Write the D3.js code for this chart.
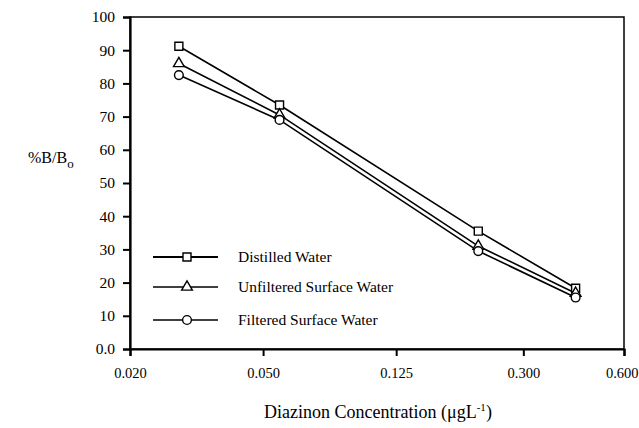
<!DOCTYPE html>
<html>
<head>
<meta charset="utf-8">
<script src="https://cdn.jsdelivr.net/npm/d3@7"></script>
<style>
  body { margin: 0; background: #fff; }
  #chart, #chart text { font-family: 'Liberation Serif', serif !important; }
</style>
</head>
<body>
<svg id="chart" width="639" height="428"></svg>
<script>
// data
let concentrations = [0.028, 0.056, 0.22, 0.43]
let distilled = [91.2, 73.5, 35.5, 18.3]
let unfiltered = [86.0, 70.5, 31.0, 16.8]
let filtered = [82.5, 69.0, 29.5, 15.5]
let seriesNames = ['Distilled Water', 'Unfiltered Surface Water', 'Filtered Surface Water']
let xTicks = [0.02, 0.05, 0.125, 0.3, 0.6]
let yTicks = [0, 10, 20, 30, 40, 50, 60, 70, 80, 90, 100]

let series = [
  {name: seriesNames[0], values: distilled, shape: 'square'},
  {name: seriesNames[1], values: unfiltered, shape: 'triangle'},
  {name: seriesNames[2], values: filtered, shape: 'circle'},
]

let svg = d3.select('#chart')
let plotL = 130, plotR = 624, plotT = 17, plotB = 349

let x = d3.scaleLog().domain([0.02, 0.6]).range([plotL, plotR])
let y = d3.scaleLinear().domain([0, 100]).range([plotB, plotT])

// frame
svg.append('rect')
  .attr('x', plotL).attr('y', plotT)
  .attr('width', plotR - plotL).attr('height', plotB - plotT)
  .attr('fill', 'none').attr('stroke', '#000').attr('stroke-width', 1.5)

// axes
let yAxis = svg.append('g')
  .attr('transform', `translate(${plotL},0)`)
  .call(d3.axisLeft(y).tickValues(yTicks).tickSize(7).tickPadding(8)
    .tickFormat(d => d === 0 ? '0.0' : d))
let xAxis = svg.append('g')
  .attr('transform', `translate(0,${plotB})`)
  .call(d3.axisBottom(x).tickValues(xTicks).tickSize(7).tickPadding(12)
    .tickFormat(d3.format('.3f')))

yAxis.attr('font-size', 15.5)
xAxis.attr('font-size', 14.5)
for (let ax of [xAxis, yAxis]) {
  ax.select('.domain').attr('stroke-width', 2.2)
  ax.selectAll('.tick line').attr('stroke-width', 2)
  ax.selectAll('.tick text').attr('fill', '#000')
}
// keep the last label inside the page
xAxis.selectAll('.tick text').filter(d => d === 0.6)
  .attr('text-anchor', 'end').attr('x', 14)

// lines
let line = d3.line()
  .x((d, i) => x(concentrations[i]))
  .y(d => y(d))

svg.selectAll('.series')
  .data(series)
  .enter()
  .append('path')
  .attr('d', d => line(d.values))
  .attr('fill', 'none')
  .attr('stroke', '#000')
  .attr('stroke-width', 1.6)

let symbols = {
  square: d3.symbol().type(d3.symbolSquare).size(64),
  triangle: d3.symbol().type(d3.symbolTriangle).size(50),
  circle: d3.symbol().type(d3.symbolCircle).size(60),
}

function drawMarker(g, shape, cx, cy) {
  g.append('path')
    .attr('d', symbols[shape]())
    .attr('transform', `translate(${cx},${cy})`)
    .attr('fill', '#fff')
    .attr('stroke', '#000')
    .attr('stroke-width', 1.4)
}

let marks = svg.append('g')
series.forEach(s => {
  s.values.forEach((v, i) => drawMarker(marks, s.shape, x(concentrations[i]), y(v)))
})

// legend
let legendY = [257, 287, 320]
let legend = svg.append('g')
series.forEach((s, i) => {
  legend.append('line')
    .attr('x1', 153).attr('x2', 218)
    .attr('y1', legendY[i]).attr('y2', legendY[i])
    .attr('stroke', '#000').attr('stroke-width', i === 0 ? 2 : 1.4)
  drawMarker(legend, s.shape, 187, legendY[i])
  legend.append('text')
    .attr('x', 238).attr('y', legendY[i] + 5)
    .attr('font-size', 15.5)
    .text(s.name)
})

// axis titles
let yt = svg.append('text')
  .attr('x', 28).attr('y', 163)
  .attr('font-size', 16)
yt.append('tspan').text('%B/B')
yt.append('tspan').attr('font-size', 13).attr('dy', 5).text('o')

let xt = svg.append('text')
  .attr('x', 378).attr('y', 418)
  .attr('text-anchor', 'middle')
  .attr('font-size', 18)
xt.append('tspan').text('Diazinon Concentration (\u03bcgL')
xt.append('tspan').attr('font-size', 11).attr('dy', -7).text('-1')
xt.append('tspan').attr('dy', 7).text(')')
</script>
</body>
</html>
